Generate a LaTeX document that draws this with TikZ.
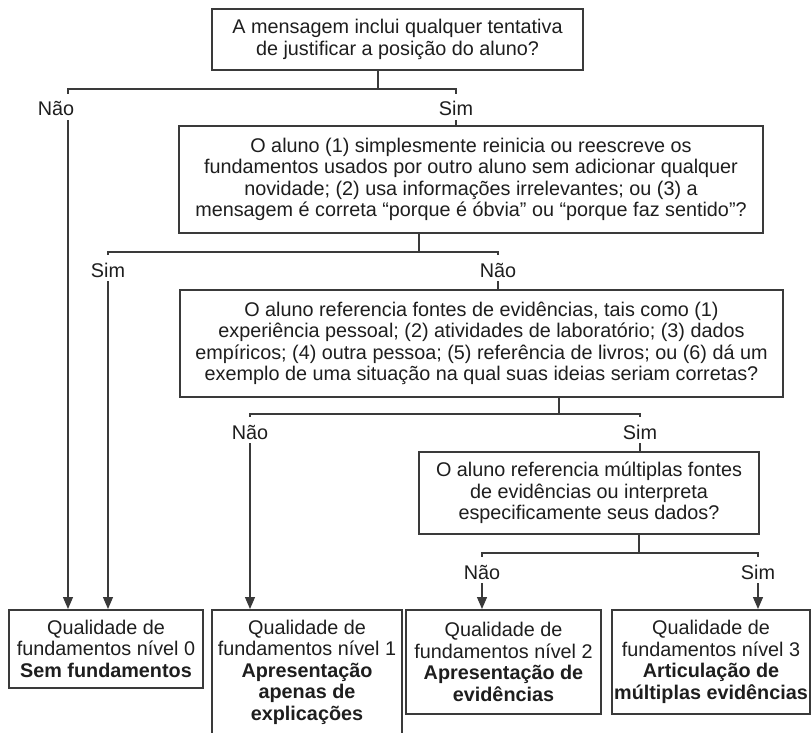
\documentclass[tikz,border=0pt]{standalone}
\usepackage{fontspec}
\setmainfont{Liberation Sans}
\usepackage{tikz}
\usetikzlibrary{positioning, arrows.meta, calc}
\definecolor{linha}{HTML}{3A3A3A}
\definecolor{texto}{HTML}{1E1E1E}
\tikzset{
	x=1pt, y=-1pt, % Unidades em pixels, eixo y para baixo
	>={Triangle[length=12pt, width=10pt]}, % Pontas de flecha cheias
	every node/.style={font=\fontsize{19.8}{21.5}\selectfont, text=texto}, % Fonte de todos os nos
	pergunta/.style={draw=linha, line width=1.6pt, align=center, inner sep=0pt}, % Caixas de pergunta
	nivel/.style={draw=linha, line width=1.6pt, align=center, inner xsep=0pt, inner ysep=10pt, anchor=north}, % Caixas de nivel
	resposta/.style={anchor=base, text height=18pt, text depth=0pt, inner sep=4pt}, % Rotulos Sim/Nao
	ramo/.style={draw=linha, line width=1.3pt} % Linhas da arvore
}

\begin{document}
\begin{tikzpicture}
	\path[use as bounding box, fill=white] (0,0) rectangle (812,733);
	\node[pergunta, minimum width=371pt, minimum height=61pt] (q1) at (397.5,39.5)
		{A mensagem inclui qualquer tentativa\\de justificar a posição do aluno?};
	\node[pergunta, minimum width=584pt, minimum height=107pt] (q2) at (471,179.5)
		{O aluno (1) simplesmente reinicia ou reescreve os\\fundamentos usados por outro aluno sem adicionar qualquer\\novidade; (2) usa informações irrelevantes; ou (3) a\\mensagem é correta “porque é óbvia” ou “porque faz sentido”?};
	\node[pergunta, minimum width=603pt, minimum height=107pt] (q3) at (481.5,343.5)
		{O aluno referencia fontes de evidências, tais como (1)\\experiência pessoal; (2) atividades de laboratório; (3) dados\\empíricos; (4) outra pessoa; (5) referência de livros; ou (6) dá um\\exemplo de uma situação na qual suas ideias seriam corretas?};
	\node[pergunta, minimum width=340pt, minimum height=82pt] (q4) at (589,493)
		{O aluno referencia múltiplas fontes\\de evidências ou interpreta\\especificamente seus dados?};
	\node[nivel, minimum width=194pt, minimum height=78pt] (b0) at (106,609)
		{Qualidade de\\fundamentos nível 0\\\textbf{Sem fundamentos}};
	\node[nivel, minimum width=190pt, text depth=30pt] (b1) at (307,609)
		{Qualidade de\\fundamentos nível 1\\\textbf{Apresentação}\\\textbf{apenas de}\\\textbf{explicações}};
	\node[nivel, minimum width=195pt, minimum height=104pt] (b2) at (503.5,609)
		{Qualidade de\\fundamentos nível 2\\\textbf{Apresentação de}\\\textbf{evidências}};
	\node[nivel, minimum width=198pt, minimum height=104pt] (b3) at (711,609)
		{Qualidade de\\fundamentos nível 3\\\textbf{Articulação de}\\\textbf{múltiplas evidências}};
	\node[resposta] (nao1) at (56,116) {Não};
	\node[resposta] (sim1) at (456,116) {Sim};
	\node[resposta] (sim2) at (108,277) {Sim};
	\node[resposta] (nao2) at (498,277) {Não};
	\node[resposta] (nao3) at (250,439) {Não};
	\node[resposta] (sim3) at (640,439) {Sim};
	\node[resposta] (nao4) at (482,579) {Não};
	\node[resposta] (sim4) at (758,579) {Sim};
	\coordinate (j1) at (378,89);
	\coordinate (j2) at (419,252);
	\coordinate (j3) at (559,414);
	\coordinate (j4) at (639,553);
	\draw[ramo] (q1.south -| j1) -- (j1)
		([xshift=12pt]nao1.north) |- (j1) -| (sim1.north)
		(sim1.south) -- (sim1.south |- q2.north);
	\draw[ramo, ->] ([xshift=12pt]nao1.south) -- ([xshift=12pt]nao1.south |- b0.north);
	\draw[ramo] (q2.south -| j2) -- (j2)
		(sim2.north) |- (j2) -| (nao2.north)
		(nao2.south) -- (nao2.south |- q3.north);
	\draw[ramo, ->] (sim2.south) -- (sim2.south |- b0.north);
	\draw[ramo] (q3.south -| j3) -- (j3)
		(nao3.north) |- (j3) -| (sim3.north)
		(sim3.south) -- (sim3.south |- q4.north);
	\draw[ramo, ->] (nao3.south) -- (nao3.south |- b1.north);
	\draw[ramo] (q4.south -| j4) -- (j4)
		(nao4.north) |- (j4) -| (sim4.north);
	\draw[ramo, ->] (nao4.south) -- (nao4.south |- b2.north);
	\draw[ramo, ->] (sim4.south) -- (sim4.south |- b3.north);
\end{tikzpicture}
\end{document}
